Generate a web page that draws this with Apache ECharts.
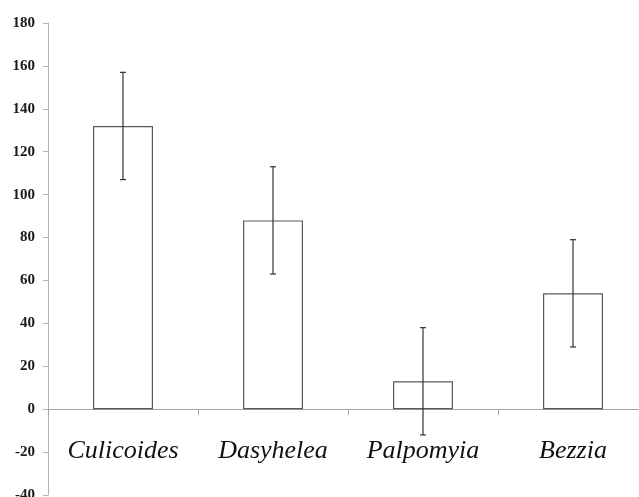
<!DOCTYPE html>
<html>
<head>
<meta charset="utf-8">
<script src="https://cdn.jsdelivr.net/npm/echarts@6/dist/echarts.min.js"></script>
<style>
  html, body { margin: 0; padding: 0; background: #ffffff; }
  #chart { width: 639px; height: 497px; }
</style>
</head>
<body>
<div id="chart"></div>
<script>
// Ceratopogonid genera, mean counts with symmetric error
const genera = ['Culicoides', 'Dasyhelea', 'Palpomyia', 'Bezzia'];
const means = [132, 88, 13, 54];
const errors = [25, 25, 25, 25];
const yTicks = { min: -40, max: 180, step: 20 };

const chart = echarts.init(document.getElementById('chart'), null, { renderer: 'canvas' });

const errorData = genera.map((g, i) => [i, means[i] - errors[i], means[i] + errors[i]]);

chart.setOption({
  animation: false,
  backgroundColor: '#ffffff',
  grid: {
    left: 48, top: 23, width: 600, height: 472,
    containLabel: false,
    outerBoundsMode: 'none'
  },
  xAxis: {
    type: 'category',
    data: genera,
    axisLine: { onZero: true, lineStyle: { color: '#a6a6a6', width: 1 } },
    axisTick: { show: true, length: 6, inside: false, lineStyle: { color: '#a6a6a6' } },
    axisLabel: {
      show: true,
      // labels sit just under the zero line
      margin: -57,
      fontFamily: 'Liberation Serif',
      fontStyle: 'italic',
      fontSize: 26,
      color: '#111111'
    },
    splitLine: { show: false }
  },
  yAxis: {
    type: 'value',
    min: yTicks.min,
    max: yTicks.max,
    interval: yTicks.step,
    axisLine: { show: true, lineStyle: { color: '#b3b3b3', width: 1 } },
    axisTick: { show: true, length: 5, lineStyle: { color: '#b3b3b3' } },
    axisLabel: {
      margin: 13,
      fontFamily: 'Liberation Serif',
      fontWeight: 'bold',
      fontSize: 15,
      color: '#1a1a1a'
    },
    splitLine: { show: false }
  },
  series: [
    {
      type: 'bar',
      data: means,
      barWidth: '40%',
      itemStyle: { color: '#ffffff', borderColor: '#5a5a5a', borderWidth: 1.2 },
      z: 2
    },
    {
      type: 'custom',
      data: errorData,
      z: 3,
      renderItem: function (params, api) {
        const x = api.value(0);
        const lo = api.coord([x, api.value(1)]);
        const hi = api.coord([x, api.value(2)]);
        const cap = 3;
        const style = { stroke: '#333333', lineWidth: 1.2 };
        return {
          type: 'group',
          children: [
            { type: 'line', shape: { x1: lo[0], y1: lo[1], x2: hi[0], y2: hi[1] }, style: style },
            { type: 'line', shape: { x1: hi[0] - cap, y1: hi[1], x2: hi[0] + cap, y2: hi[1] }, style: style },
            { type: 'line', shape: { x1: lo[0] - cap, y1: lo[1], x2: lo[0] + cap, y2: lo[1] }, style: style }
          ]
        };
      }
    }
  ]
});
</script>
</body>
</html>
